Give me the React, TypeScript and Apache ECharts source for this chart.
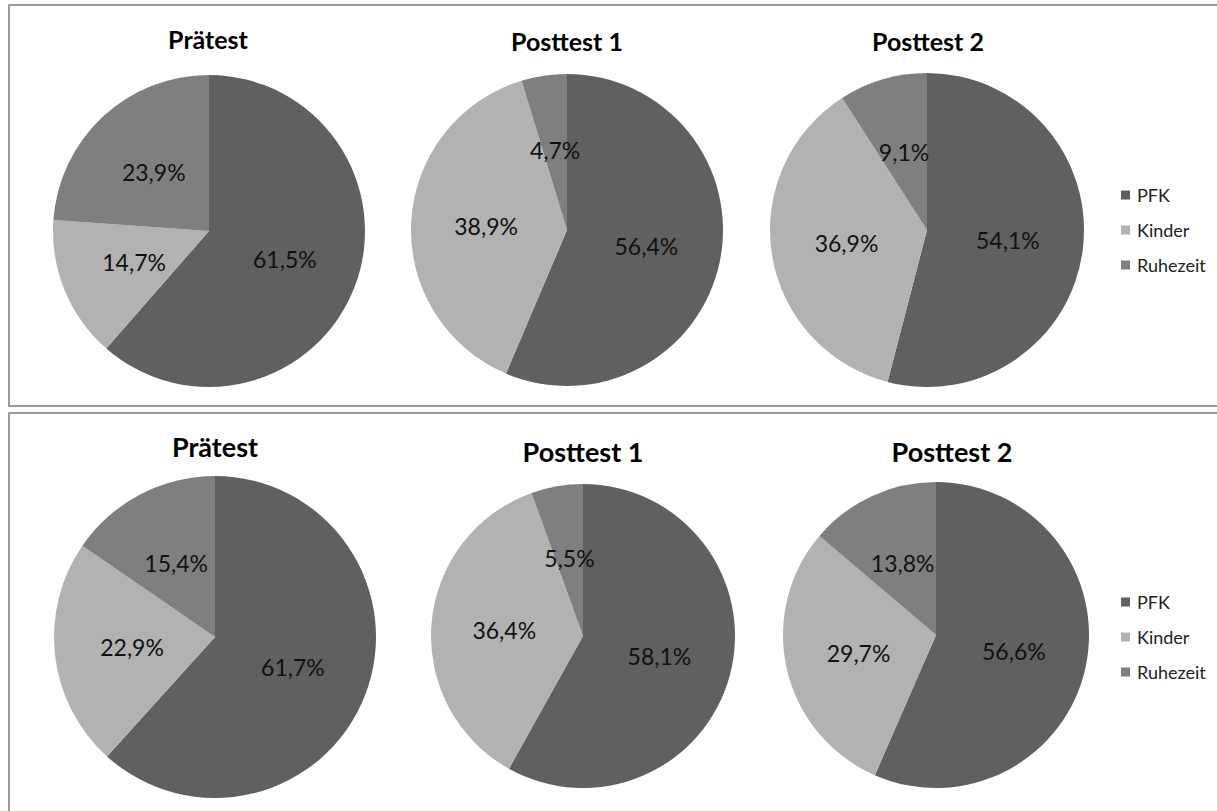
import React, { useEffect, useRef } from "react";
import * as echarts from "echarts";

const categories = ["PFK", "Kinder", "Ruhezeit"];
const chartTitles = ["Prätest", "Posttest 1", "Posttest 2"];
const topPraetest = [61.5, 14.7, 23.9];
const topPosttest1 = [56.4, 38.9, 4.7];
const topPosttest2 = [54.1, 36.9, 9.1];
const bottomPraetest = [61.7, 22.9, 15.4];
const bottomPosttest1 = [58.1, 36.4, 5.5];
const bottomPosttest2 = [56.6, 29.7, 13.8];
const sliceColors = ["#606060", "#b2b2b2", "#7f7f7f"];

const FONT = "Lato, 'Open Sans', sans-serif";

// layout (positions / sizes)
const pieLayout = [
  { values: topPraetest, center: [209, 231], r: 156 },
  { values: topPosttest1, center: [567, 230], r: 156 },
  { values: topPosttest2, center: [927, 230], r: 157 },
  { values: bottomPraetest, center: [215, 637], r: 161 },
  { values: bottomPosttest1, center: [583, 636], r: 152 },
  { values: bottomPosttest2, center: [936, 635], r: 153 },
];
const titleLayout = [
  { x: 208, y: 39, size: 25 },
  { x: 567, y: 41, size: 25 },
  { x: 928, y: 41, size: 25 },
  { x: 215, y: 446, size: 27 },
  { x: 583, y: 451, size: 27 },
  { x: 952, y: 451, size: 27 },
];

export default function App() {
  const ref = useRef<HTMLDivElement>(null);
  useEffect(() => {
    if (!ref.current) return;
    const chart = echarts.init(ref.current, null, { renderer: "svg" });
    const series = pieLayout.map((p, i) => ({
      type: "pie",
      name: "pie" + i,
      center: p.center,
      radius: p.r,
      startAngle: 90,
      clockwise: true,
      silent: true,
      avoidLabelOverlap: false,
      emphasis: { disabled: true },
      itemStyle: { borderWidth: 0 },
      label: {
        show: true,
        position: "inside",
        color: "#111",
        fontFamily: FONT,
        fontSize: 23,
        formatter: (q: any) => q.value.toFixed(1).replace(".", ",") + "%",
      },
      labelLine: { show: false },
      data: categories.map((c, k) => ({
        name: c,
        value: p.values[k],
        itemStyle: { color: sliceColors[k] },
      })),
    }));
    const titles = titleLayout.map((t, i) => ({
      type: "text",
      x: t.x,
      y: t.y,
      silent: true,
      style: {
        text: chartTitles[i % 3],
        align: "center",
        verticalAlign: "middle",
        font: `bold ${t.size}px ${FONT}`,
        fill: "#000",
      },
    }));
    const legendBase = {
      orient: "vertical",
      left: 1116,
      icon: "rect",
      itemWidth: 9,
      itemHeight: 9,
      itemGap: 15,
      selectedMode: false,
      data: categories,
      textStyle: {
        fontFamily: FONT,
        fontSize: 18,
        lineHeight: 20,
        color: "#222",
        padding: [0, 0, 0, 2],
      },
    };
    chart.setOption({
      animation: false,
      backgroundColor: "#fff",
      legend: [
        { ...legendBase, top: 180 },
        { ...legendBase, top: 587 },
      ],
      graphic: [
        {
          type: "rect",
          silent: true,
          z: -1,
          shape: { x: 9, y: 5, width: 1240, height: 401 },
          style: { fill: "none", stroke: "#999", lineWidth: 2 },
        },
        {
          type: "rect",
          silent: true,
          z: -1,
          shape: { x: 9, y: 413, width: 1240, height: 430 },
          style: { fill: "none", stroke: "#999", lineWidth: 2 },
        },
        ...titles,
      ],
      series,
    });
    return () => chart.dispose();
  }, []);
  return (
    <div
      ref={ref}
      style={{ position: "absolute", left: 0, top: 0, width: 1217, height: 811 }}
    />
  );
}
